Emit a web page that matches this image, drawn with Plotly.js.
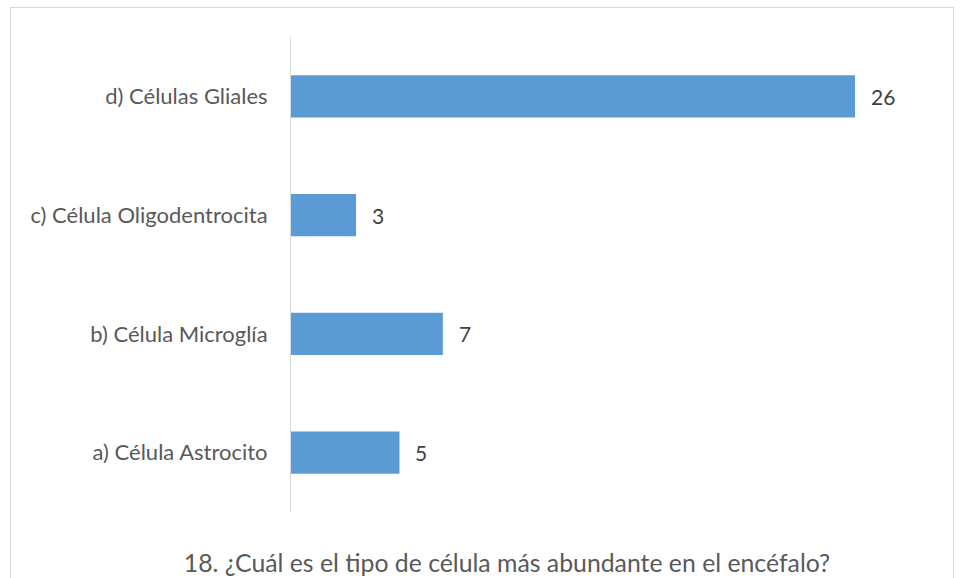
<!DOCTYPE html>
<html>
<head>
<meta charset="utf-8">
<script src="https://cdn.plot.ly/plotly-3.0.1.min.js"></script>
<style>
html,body{margin:0;padding:0;background:#fff;}
#wrap{position:relative;width:960px;height:578px;overflow:hidden;}
#chart{position:absolute;left:0;top:0;width:960px;height:578px;}
#frame{position:absolute;left:10px;top:7px;width:942px;height:620px;border:1px solid #d9d9d9;pointer-events:none;}
</style>
</head>
<body>
<div id="wrap"><div id="chart"></div><div id="frame"></div></div>
<script>
const categories = ["a) Célula Astrocito", "b) Célula Microglía", "c) Célula Oligodentrocita", "d) Células Gliales"];
const values = [5, 7, 3, 26];
const chartTitle = "18. ¿Cuál es el tipo de célula más abundante en el encéfalo?";

const FONT = "Lato, 'Open Sans', sans-serif";
const TXT = "#595959";

const trace = {
  type: "bar",
  orientation: "h",
  y: categories,
  x: values,
  marker: {color: "#5b9bd5"},
  width: 0.355,
  hoverinfo: "none"
};

const annotations = values.map((v, i) => ({
  x: v, y: categories[i], xref: "x", yref: "y",
  text: String(v), showarrow: false, xanchor: "left", xshift: 14,
  font: {family: FONT, size: 21, color: "#404040"}
}));

const layout = {
  width: 960, height: 578,
  margin: {l: 291, r: 105, t: 37, b: 66, pad: 0},
  paper_bgcolor: "#fff", plot_bgcolor: "#fff",
  showlegend: false,
  bargap: 0.645,
  xaxis: {range: [0, 26], visible: false, fixedrange: true},
  yaxis: {
    type: "category", range: [-0.5, 3.5],
    showline: true, linecolor: "#d9d9d9", linewidth: 1,
    showgrid: false, zeroline: false, ticks: "",
    ticklabelstandoff: 18,
    tickfont: {family: FONT, size: 22, color: TXT}
  },
  annotations: annotations,
  title: {
    text: chartTitle,
    font: {family: FONT, size: 24.8, color: TXT},
    xref: "container", yref: "container",
    x: 507/960, xanchor: "center",
    y: (578-563)/578, yanchor: "middle"
  }
};

Plotly.newPlot("chart", [trace], layout, {displayModeBar: false, staticPlot: true});
</script>
</body>
</html>
